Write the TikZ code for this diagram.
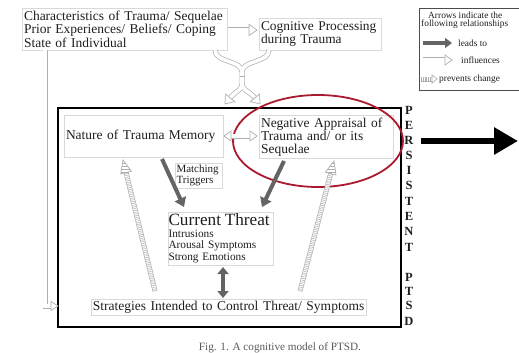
\documentclass[tikz,border=0pt]{standalone}
\usepackage{fontspec}
\setmainfont{Liberation Serif}
\usetikzlibrary{arrows.meta,calc,patterns,shapes.geometric}
\definecolor{ered}{RGB}{170,25,45}
\definecolor{hgray}{RGB}{175,175,175}
\definecolor{agray}{RGB}{100,100,100}
\definecolor{tcol}{RGB}{30,30,30}
\newcommand\arrhead[5]{%
  \coordinate (hb) at ($(#1)!#3!(#2)$);
  \draw[#5] (#1) -- ($(hb)!#4!90:(#1)$) -- ($(hb)!#4!-90:(#1)$) -- cycle;}
\newcommand\hollowpath[1]{%
  \draw[hgray, line width=5pt] #1;
  \draw[white, line width=3.6pt] #1;}
\newcommand\hatchpath[1]{%
  \draw[hgray, line width=5pt] #1;
  \draw[white, line width=3.6pt] #1;
  \draw[hgray, line width=3.6pt, dash pattern=on 0.5pt off 1.3pt] #1;}
\tikzset{
  tbox/.style={draw=black!15, line width=0.5pt, inner sep=2pt, text=tcol, align=left},
  hhead/.style={hgray, fill=white, line width=0.7pt, line join=miter},
  xhead/.style={hgray, fill=white, line width=0.7pt, postaction={pattern=horizontal lines, pattern color=hgray}},
  lead/.style={agray, line width=4pt, -{Triangle[length=9pt,width=12pt]}},
  lead2/.style={agray, line width=4pt, {Triangle[length=7pt,width=11pt]}-{Triangle[length=7pt,width=11pt]}},
  pl/.style={font=\fontsize{12.5}{12.5}\selectfont\bfseries, inner sep=0pt, text=tcol},
  leg/.style={font=\fontsize{9.4}{9}\selectfont, inner sep=0pt, anchor=west, text=tcol},
}
\begin{document}
\begin{tikzpicture}[x=1pt,y=-1pt]
\useasboundingbox (0,0) rectangle (519,353);

% top boxes
\node[tbox, text width=201pt, minimum height=42pt, font=\fontsize{13.5}{13.5}\selectfont] (chars) at (124.5,29)
  {Characteristics of Trauma/ Sequelae\\Prior Experiences/ Beliefs/ Coping\\State of Individual};
\node[tbox, text width=118pt, minimum height=32pt, font=\fontsize{13.4}{13.5}\selectfont] (cog) at (320,34)
  {Cognitive Processing\\during Trauma};

% main box
\draw[black, line width=2pt] (58,108) rectangle (401,327);
\coordinate (mainW) at (58,306);

% inner nodes
\node[tbox, text width=155pt, minimum height=42pt, font=\fontsize{13.5}{14}\selectfont] (nat) at (143.5,136)
  {Nature of Trauma Memory};
\node[tbox, text width=130pt, minimum height=42pt, font=\fontsize{13.5}{13.3}\selectfont] (neg) at (326,137)
  {Negative Appraisal of\\Trauma and/ or its\\Sequelae};
\node[tbox, text width=45pt, minimum height=25pt, inner sep=1pt, font=\fontsize{11}{11.5}\selectfont] (match) at (199,175.5)
  {Matching\\Triggers};
\node[tbox, text width=104pt, minimum height=53pt, inner sep=0.5pt, font=\fontsize{11.3}{11.5}\selectfont] (cur) at (220.5,238.5)
  {{\fontsize{17.2}{17}\selectfont Current Threat}\\Intrusions\\Arousal Symptoms\\Strong Emotions};
\node[tbox, text width=273pt, minimum height=16pt, inner sep=1pt, align=center, font=\fontsize{13.5}{14}\selectfont] (str) at (228.5,307)
  {Strategies Intended to Control Threat/ Symptoms};

% PERSISTENT PTSD
\foreach \ch/\yy [count=\i] in {P/110,E/125,R/140,S/155,I/170,S/185,T/201,E/216,N/231,T/247,P/277,T/291,S/305,D/321}
  \node[pl] (L\i) at (409,\yy) {\ch};

% red ellipse
\node[draw=ered, line width=1.8pt, ellipse, minimum width=170pt, minimum height=92pt] (ell) at (318,141) {};

% big black arrow
\coordinate (bigS) at (421,141);
\coordinate (bigE) at (518,141);
\draw[black, line width=6pt, -{Triangle[length=24pt,width=26pt]}] (bigS) -- (bigE);

% hollow arrow characteristics -> cognitive
\coordinate (h1s) at (228,30);
\coordinate (h1t) at (257,30);
\coordinate (h1b) at ($(h1t)!8pt!(h1s)$);
\hollowpath{(h1s) -- (h1b)}
\arrhead{h1t}{h1s}{8pt}{5.5pt}{hhead}

% hollow double arrow nature <-> negative
\coordinate (h2a) at (224,136);
\coordinate (h2b) at (257,136);
\coordinate (h2ab) at ($(h2a)!7pt!(h2b)$);
\coordinate (h2bb) at ($(h2b)!7pt!(h2a)$);
\hollowpath{(h2ab) -- (h2bb)}
\arrhead{h2a}{h2b}{7pt}{5pt}{hhead}
\arrhead{h2b}{h2a}{7pt}{5pt}{hhead}

% left vertical hollow arrow into main box
\coordinate (lvt) at (45,50);
\coordinate (lvb) at ($(mainW)!7pt!(45,306)$);
\hollowpath{(lvt) |- (lvb)}
\arrhead{mainW}{lvb}{7pt}{4.5pt}{hhead}

% merging / splitting hollow arrow
\coordinate (sL) at (215,50);
\coordinate (sR) at (269,50);
\coordinate (sM) at (242,72);
\coordinate (sN) at (242,84);
\coordinate (tL) at (225,104);
\coordinate (tR) at (260,104);
\coordinate (bL) at ($(tL)!8pt!(234,93)$);
\coordinate (bR) at ($(tR)!8pt!(251,93)$);
\draw[hgray, line width=5pt] (sL) .. controls (215,63) and (242,60) .. (sM)
  (sR) .. controls (269,63) and (242,60) .. (sM) -- (sN)
  (sN) .. controls (242,90) and (236,91) .. (bL)
  (sN) .. controls (242,90) and (249,91) .. (bR);
\draw[white, line width=3.6pt] (sL) .. controls (215,63) and (242,60) .. (sM)
  (sR) .. controls (269,63) and (242,60) .. (sM) -- (sN)
  (sN) .. controls (242,90) and (236,91) .. (bL)
  (sN) .. controls (242,90) and (249,91) .. (bR);
\draw[hgray, line width=0.6pt] (239.5,76) -- (244.5,76);
\arrhead{tL}{234,93}{8pt}{6pt}{hhead}
\arrhead{tR}{251,93}{8pt}{6pt}{hhead}

% leads-to arrows
\coordinate (a1s) at (162,159);
\coordinate (a1e) at (184,207);
\coordinate (a2s) at (284,161);
\coordinate (a2e) at (262,207);
\draw[lead] (a1s) -- (a1e);
\draw[lead] (a2s) -- (a2e);
\coordinate (dvs) at (223,267);
\coordinate (dve) at (223,298);
\draw[lead2] (dvs) -- (dve);

% prevents-change arrows
\coordinate (p1s) at (155,291);
\coordinate (p1t) at (123,160);
\coordinate (p1b) at ($(p1t)!13pt!(p1s)$);
\hatchpath{(p1s) -- (p1b)}
\arrhead{p1t}{p1s}{13pt}{5.5pt}{xhead}
\coordinate (p2s) at (300,291);
\coordinate (p2t) at (334,161);
\coordinate (p2b) at ($(p2t)!13pt!(p2s)$);
\hatchpath{(p2s) -- (p2b)}
\arrhead{p2t}{p2s}{13pt}{5.5pt}{xhead}

% legend
\draw[black!70, line width=0.8pt] (419,8) rectangle (535,90);
\node[leg] (lg1) at (428,15) {Arrows indicate the};
\node[leg] (lg2) at (421,24.5) {following relationships};
\coordinate (la1) at (423,43);
\coordinate (la2) at (452,43);
\draw[agray, line width=4pt, -{Triangle[length=7pt,width=10pt]}] (la1) -- (la2);
\node[leg] (lg3) at (458,43) {leads to};
\coordinate (lb1) at (423,60);
\coordinate (lb2) at (452,60);
\coordinate (lbb) at ($(lb2)!7pt!(lb1)$);
\hollowpath{(lb1) -- (lbb)}
\arrhead{lb2}{lb1}{7pt}{5pt}{hhead}
\node[leg] (lg4) at (461,60) {influences};
\coordinate (lc1) at (421,79);
\coordinate (lc2) at (437,79);
\coordinate (lcb) at ($(lc2)!5pt!(lc1)$);
\hatchpath{(lc1) -- (lcb)}
\arrhead{lc2}{lc1}{5pt}{4pt}{hhead}
\node[leg] (lg5) at (439,79) {prevents change};

% caption
\node[font=\fontsize{11.2}{12}\selectfont, text=black!65, inner sep=0pt] (cap) at (280,348) {Fig. 1. A cognitive model of PTSD.};
\end{tikzpicture}
\end{document}
